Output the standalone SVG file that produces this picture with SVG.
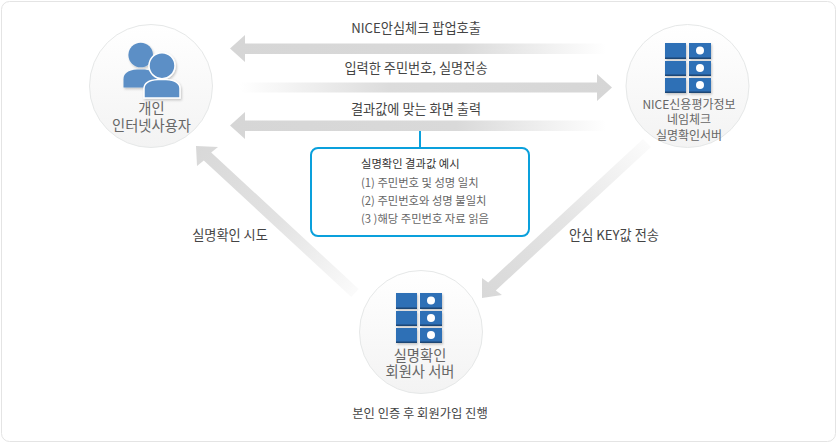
<svg xmlns="http://www.w3.org/2000/svg" width="840" height="445" viewBox="0 0 840 445">
<style>
text{font-family:"Noto Sans CJK KR","Liberation Sans",sans-serif;fill:#444;text-anchor:middle}
.l{font-size:13.200px}
.n{font-size:14.300px;fill:#666}
.m{font-size:12px;fill:#666}
.s{font-size:11.300px;fill:#666;text-anchor:start}
.c{fill:url(#cg);stroke:#e6e8e8;stroke-width:1}
.u{fill:#5b8fc6}
.w{fill:#5b8fc6;stroke:#fff;stroke-width:1.500}
</style>
<defs>
<linearGradient id="cg" x1="0" y1="0" x2="0" y2="1"><stop offset="0" stop-color="#fff"/><stop offset="1" stop-color="#f3f3f3"/></linearGradient>
<linearGradient id="fl" gradientUnits="userSpaceOnUse" x1="230" y1="0" x2="606" y2="0"><stop offset="0" stop-color="#d6d6d6"/><stop offset=".6" stop-color="#d9d9d9"/><stop offset="1" stop-color="#fff"/></linearGradient>
<linearGradient id="fr" gradientUnits="userSpaceOnUse" x1="240" y1="0" x2="612" y2="0"><stop offset="0" stop-color="#fff"/><stop offset=".4" stop-color="#dcdcdc"/><stop offset="1" stop-color="#d6d6d6"/></linearGradient>
<linearGradient id="fd1" gradientUnits="userSpaceOnUse" x1="647" y1="143" x2="482" y2="298"><stop offset="0" stop-color="#fbfbfb"/><stop offset=".5" stop-color="#e4e4e4"/><stop offset="1" stop-color="#d8d8d8"/></linearGradient>
<linearGradient id="fd2" gradientUnits="userSpaceOnUse" x1="357" y1="293" x2="196" y2="146"><stop offset="0" stop-color="#fbfbfb"/><stop offset=".5" stop-color="#e2e2e2"/><stop offset="1" stop-color="#d8d8d8"/></linearGradient>
<filter id="sh" x="-10%" y="-10%" width="125%" height="125%"><feDropShadow dx="1" dy="1.500" stdDeviation="1.200" flood-color="#000" flood-opacity=".22"/></filter>
<g id="srv" filter="url(#sh)">
<rect x="0" y="0" width="21" height="16" fill="#2e6fb6"/><rect x="0" y="14.500" width="21" height="1.500" fill="#1c4674"/>
<rect x="24" y="0" width="22" height="16" fill="#2e6fb6"/><rect x="24" y="14.500" width="22" height="1.500" fill="#1c4674"/><circle cx="35" cy="7.500" r="4" fill="#fff"/>
<rect x="0" y="18" width="21" height="15" fill="#2e6fb6"/><rect x="0" y="31.500" width="21" height="1.500" fill="#1c4674"/>
<rect x="24" y="18" width="22" height="15" fill="#2e6fb6"/><rect x="24" y="31.500" width="22" height="1.500" fill="#1c4674"/><circle cx="35" cy="25" r="4" fill="#fff"/>
<rect x="0" y="35" width="21" height="15" fill="#2e6fb6"/><rect x="0" y="48.500" width="21" height="1.500" fill="#1c4674"/>
<rect x="24" y="35" width="22" height="15" fill="#2e6fb6"/><rect x="24" y="48.500" width="22" height="1.500" fill="#1c4674"/><circle cx="35" cy="42" r="4" fill="#fff"/>
</g>
</defs>
<rect x="1.500" y="1.500" width="834" height="440" rx="8" fill="#fff" stroke="#e4e4e4"/>
<g id="connectors">
<path d="M230 48.500L245 35V43.500H606V54H245V62Z" fill="url(#fl)"/>
<path d="M240 82.500H597V74L612 87.500L597 101V92.500H240Z" fill="url(#fr)"/>
<path d="M230 125.500L245 112V120.500H606V131H245V139Z" fill="url(#fl)"/>
<path d="M482 298L482 278L488.200 282.500L643 139L651 147L495.800 290.500L502 295Z" fill="url(#fd1)"/>
<path d="M196 146L218 147L211.200 152.500L358.700 289L351.300 297L203.800 160.500L197 166Z" fill="url(#fd2)"/>
<path d="M420 131V148" stroke="#0aa0dc" stroke-width="2" fill="none"/>
</g>
<g id="node-user">
<circle class="c" cx="151" cy="86" r="61.500"/>
<g filter="url(#sh)">
<circle class="u" cx="140.700" cy="55" r="12.300"/>
<path class="u" d="M123.500 87.500V79Q123.500 70.500 137 69.500H145Q155 70.500 158 80V87.500Z"/>
<circle class="w" cx="162" cy="65.700" r="13"/>
<path class="w" d="M144 98V88.500Q144 80.500 158 79.500H166Q180 80.500 180 88.500V98Z"/>
</g>
<text class="n"><tspan x="151.500" y="114">개인</tspan><tspan x="151.500" y="131">인터넷사용자</tspan></text>
</g>
<g id="node-nice">
<circle class="c" cx="687.500" cy="86" r="61.500"/>
<use href="#srv" x="665" y="43"/>
<text class="m"><tspan x="689" y="108.500">NICE신용평가정보</tspan><tspan x="689" y="124">네임체크</tspan><tspan x="689" y="139.500">실명확인서버</tspan></text>
</g>
<g id="node-member">
<circle class="c" cx="421" cy="332" r="61.500"/>
<use href="#srv" x="396" y="293"/>
<text class="n"><tspan x="420" y="361">실명확인</tspan><tspan x="420" y="377">회원사 서버</tspan></text>
</g>
<g id="note">
<rect x="311" y="148" width="218" height="88" rx="7" fill="#fff" stroke="#0aa0dc" stroke-width="2"/>
<text class="s" x="361" y="168" style="fill:#333">실명확인 결과값 예시</text>
<text class="s" x="361" y="187">(1) 주민번호 및 성명 일치</text>
<text class="s" x="361" y="205">(2) 주민번호와 성명 불일치</text>
<text class="s" x="361" y="223">(3 )해당 주민번호 자료 읽음</text>
</g>
<g id="labels">
<text class="l" x="416" y="33">NICE안심체크 팝업호출</text>
<text class="l" x="416" y="73">입력한 주민번호, 실명전송</text>
<text class="l" x="416" y="114">결과값에 맞는 화면 출력</text>
<text class="l" x="230" y="240">실명확인 시도</text>
<text class="l" x="614" y="240">안심 KEY값 전송</text>
<text x="420" y="418" style="font-size:12.300px">본인 인증 후 회원가입 진행</text>
</g>
</svg>
